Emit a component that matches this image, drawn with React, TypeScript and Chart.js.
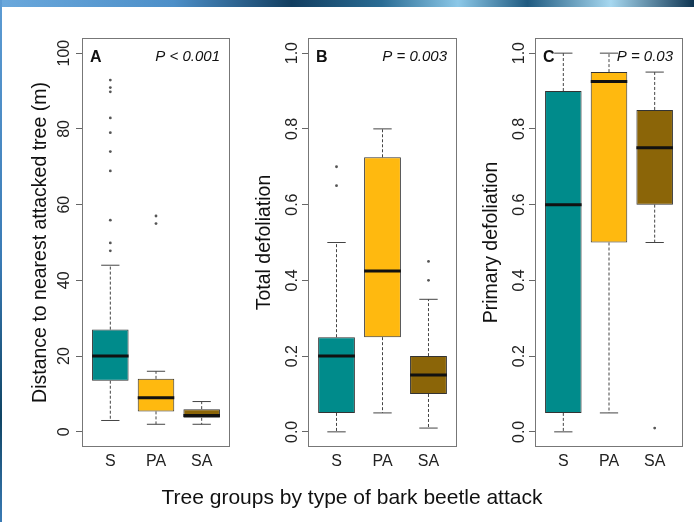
import React, { useEffect, useRef } from "react";
import { Chart, registerables } from "chart.js";
Chart.register(...registerables);

const FONT = "'Liberation Sans', Arial, Helvetica, sans-serif";

const CATEGORIES = ["S", "PA", "SA"];
const BOX_COLORS = ["#008B8B", "#FFB90F", "#8B6508"];

// Panel A: distance to nearest attacked tree (m)
const distLow = [3, 2, 2];
const distQ1 = [13.5, 5.4, 3.7];
const distMedian = [20, 9, 4.3];
const distQ3 = [27, 14, 6];
const distHigh = [44, 16, 8];
const distOutliers = [[92.9, 90.9, 89.8, 82.9, 79, 74, 68.9, 55.9, 49.9, 47.8], [57, 55], []];
const distTicks = [0, 20, 40, 60, 80, 100];

// Panel B: total defoliation
const totLow = [0, 0.05, 0.01];
const totQ1 = [0.05, 0.25, 0.1];
const totMedian = [0.2, 0.425, 0.15];
const totQ3 = [0.25, 0.725, 0.2];
const totHigh = [0.5, 0.8, 0.35];
const totOutliers = [[0.7, 0.65], [], [0.4, 0.45]];

// Panel C: primary defoliation
const priLow = [0, 0.05, 0.5];
const priQ1 = [0.05, 0.5, 0.6];
const priMedian = [0.6, 0.925, 0.75];
const priQ3 = [0.9, 0.95, 0.85];
const priHigh = [1.0, 1.0, 0.95];
const priOutliers = [[], [], [0.01]];

const fracTicks = [0, 0.2, 0.4, 0.6, 0.8, 1.0];

const PANELS = [
  {
    letter: "A", ptext: "P < 0.001", title: "Distance to nearest attacked tree (m)",
    low: distLow, q1: distQ1, median: distMedian, q3: distQ3, high: distHigh, outliers: distOutliers,
    ticks: distTicks, yMin: -4, yMax: 104, fmt: (v: number) => String(v),
    left: 0, plotW: 148, titlePad: 29,
  },
  {
    letter: "B", ptext: "P = 0.003", title: "Total defoliation",
    low: totLow, q1: totQ1, median: totMedian, q3: totQ3, high: totHigh, outliers: totOutliers,
    ticks: fracTicks, yMin: -0.04, yMax: 1.04, fmt: (v: number) => v.toFixed(1),
    left: 226, plotW: 149, titlePad: 27,
  },
  {
    letter: "C", ptext: "P = 0.03", title: "Primary defoliation",
    low: priLow, q1: priQ1, median: priMedian, q3: priQ3, high: priHigh, outliers: priOutliers,
    ticks: fracTicks, yMin: -0.04, yMax: 1.04, fmt: (v: number) => v.toFixed(1),
    left: 453, plotW: 148, titlePad: 27,
  },
];

const Y_AXIS_W = 82;
const CANVAS_W = 245;
const CANVAS_H = 522;
const PLOT_TOP = 38;
const X_AXIS_H = 40;
const PLOT_BOTTOM = 447;

function buildDatasets(p: any) {
  const boxes = CATEGORIES.map((_, i) => ({ x: i + 1, y: [p.q1[i], p.q3[i]] }));
  const whiskers: any[] = [];
  const caps: any[] = [];
  const medians: any[] = [];
  const outliers: any[] = [];
  CATEGORIES.forEach((_, i) => {
    const x = i + 1;
    whiskers.push({ x, y: p.q3[i] }, { x, y: p.high[i] }, { x, y: null },
      { x, y: p.q1[i] }, { x, y: p.low[i] }, { x, y: null });
    caps.push({ x: x - 0.2, y: p.high[i] }, { x: x + 0.2, y: p.high[i] }, { x, y: null },
      { x: x - 0.2, y: p.low[i] }, { x: x + 0.2, y: p.low[i] }, { x, y: null });
    medians.push({ x: x - 0.4, y: p.median[i] }, { x: x + 0.4, y: p.median[i] }, { x, y: null });
    p.outliers[i].forEach((v: number) => outliers.push({ x, y: v }));
  });
  return [
    {
      type: "bar", data: boxes, backgroundColor: BOX_COLORS, borderColor: "#333",
      borderWidth: 1, borderSkipped: false, categoryPercentage: 1, barPercentage: 0.8, order: 3,
    },
    {
      type: "line", data: whiskers, borderColor: "#444", borderWidth: 1, borderDash: [3, 2],
      pointRadius: 0, spanGaps: false, fill: false, order: 4,
    },
    {
      type: "line", data: caps, borderColor: "#444", borderWidth: 1,
      pointRadius: 0, spanGaps: false, fill: false, order: 4,
    },
    {
      type: "line", data: medians, borderColor: "#111", borderWidth: 3,
      pointRadius: 0, spanGaps: false, fill: false, order: 1,
    },
    {
      type: "scatter", data: outliers, pointRadius: 1.4, backgroundColor: "#555",
      borderWidth: 0, order: 1,
    },
  ];
}

const framePlugin = {
  id: "panelFrame",
  afterDatasetsDraw(chart: any, _args: any, opts: any) {
    const { ctx, chartArea } = chart;
    ctx.save();
    ctx.strokeStyle = "#777";
    ctx.lineWidth = 1;
    ctx.strokeRect(Math.round(chartArea.left) + 0.5, Math.round(chartArea.top) + 0.5,
      Math.round(chartArea.right - chartArea.left) - 1, Math.round(chartArea.bottom - chartArea.top) - 1);
    ctx.fillStyle = "#111";
    ctx.textBaseline = "middle";
    ctx.font = `bold 16px ${FONT}`;
    ctx.textAlign = "left";
    ctx.fillText(opts.letter, chartArea.left + 8, chartArea.top + 20);
    ctx.font = `italic 15px ${FONT}`;
    ctx.textAlign = "right";
    ctx.fillText(opts.ptext, chartArea.right - 10, chartArea.top + 19);
    ctx.restore();
  },
};

function Panel({ p }: { p: any }) {
  const ref = useRef<HTMLCanvasElement | null>(null);
  useEffect(() => {
    if (!ref.current) return;
    const chart = new Chart(ref.current, {
      type: "bar",
      data: { datasets: buildDatasets(p) as any },
      plugins: [framePlugin],
      options: {
        animation: false,
        responsive: false,
        events: [],
        devicePixelRatio: 1,
        layout: {
          padding: {
            left: 0, top: PLOT_TOP, right: CANVAS_W - Y_AXIS_W - p.plotW,
            bottom: CANVAS_H - PLOT_BOTTOM - X_AXIS_H,
          },
        },
        plugins: {
          legend: { display: false },
          tooltip: { enabled: false },
          panelFrame: { letter: p.letter, ptext: p.ptext },
        } as any,
        scales: {
          x: {
            type: "linear", min: 0.38, max: 3.62, offset: false,
            afterBuildTicks: (s: any) => { s.ticks = CATEGORIES.map((_, i) => ({ value: i + 1 })); },
            afterFit: (s: any) => { s.height = X_AXIS_H; },
            ticks: {
              callback: (_v: any, i: number) => CATEGORIES[i],
              font: { size: 16, family: FONT }, color: "#222", padding: 5,
              autoSkip: false, maxRotation: 0, minRotation: 0,
            },
            grid: { display: false, drawTicks: false, offset: false },
            border: { display: false },
          },
          y: {
            type: "linear", min: p.yMin, max: p.yMax,
            afterBuildTicks: (s: any) => { s.ticks = p.ticks.map((v: number) => ({ value: v })); },
            afterFit: (s: any) => { s.width = Y_AXIS_W; },
            ticks: {
              callback: (v: any) => p.fmt(Number(v)),
              font: { size: 16, family: FONT }, color: "#222", padding: -2,
              minRotation: 90, maxRotation: 90, crossAlign: "center", autoSkip: false,
            },
            grid: { display: true, drawOnChartArea: false, drawTicks: true, tickLength: 6, tickColor: "#666", color: "#666" },
            border: { display: false },
            title: {
              display: true, text: p.title, color: "#111",
              font: { size: 19.5, family: FONT }, padding: { top: p.titlePad, bottom: 0 },
            },
          },
        },
      } as any,
    });
    return () => chart.destroy();
  }, [p]);
  return (
    <canvas
      ref={ref}
      width={CANVAS_W}
      height={CANVAS_H}
      style={{ position: "absolute", left: p.left, top: 0, width: CANVAS_W, height: CANVAS_H }}
    />
  );
}

export default function App() {
  return (
    <div style={{ position: "fixed", left: 0, top: 0, width: 694, height: 522, background: "#fff", overflow: "hidden" }}>
      <div style={{
        position: "absolute", left: 0, top: 0, width: 694, height: 7,
        background: "linear-gradient(90deg, #6aa8dc 0%, #4d8fc8 25%, #123e60 42%, #2a6c94 55%, #8cc8e8 66%, #1f5a80 76%, #a7d8f0 88%, #0f3552 100%)",
      }} />
      <div style={{
        position: "absolute", left: 0, top: 0, width: 2, height: 522,
        background: "linear-gradient(180deg, #5c9bd3 0%, #3a7bb5 50%, #0f4464 80%, #3a7bb5 100%)",
      }} />
      {PANELS.map((p) => <Panel key={p.letter} p={p} />)}
      <div style={{
        position: "absolute", left: 0, top: 484, width: 704, textAlign: "center",
        fontFamily: FONT, fontSize: 21, lineHeight: "26px", color: "#111",
      }}>
        Tree groups by type of bark beetle attack
      </div>
    </div>
  );
}
